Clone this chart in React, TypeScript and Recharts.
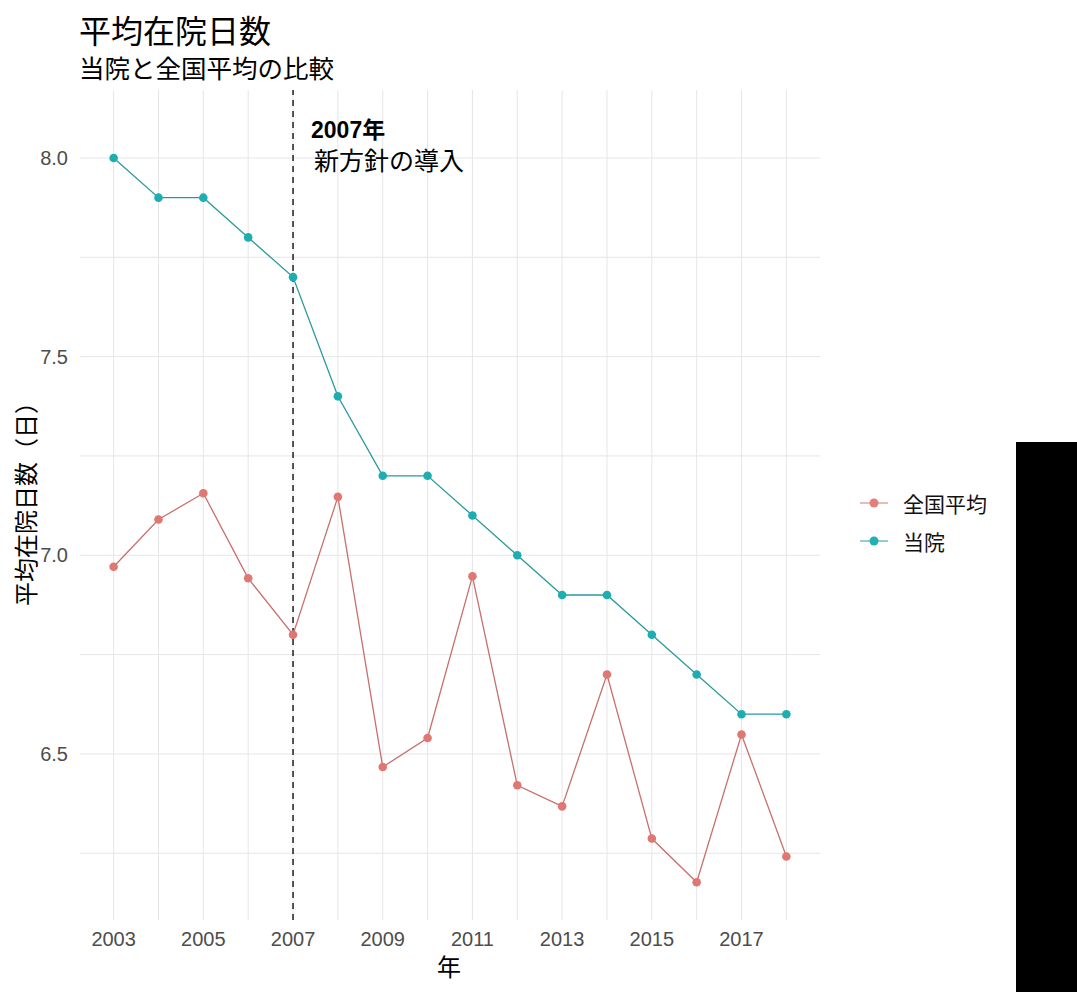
import React from 'react';
import {
  LineChart,
  Line,
  XAxis,
  YAxis,
  CartesianGrid,
  ReferenceLine,
} from 'recharts';

const years = [2003, 2004, 2005, 2006, 2007, 2008, 2009, 2010, 2011, 2012, 2013, 2014, 2015, 2016, 2017, 2018];
const hospital = [8.0, 7.9, 7.9, 7.8, 7.7, 7.4, 7.2, 7.2, 7.1, 7.0, 6.9, 6.9, 6.8, 6.7, 6.6, 6.6];
const national = [6.971, 7.09, 7.156, 6.942, 6.8, 7.147, 6.467, 6.54, 6.947, 6.421, 6.368, 6.7, 6.287, 6.177, 6.549, 6.242];
const xTicks = [2003, 2005, 2007, 2009, 2011, 2013, 2015, 2017];
const yTicks = [6.5, 7.0, 7.5, 8.0];
const yGrid = [6.25, 6.5, 6.75, 7.0, 7.25, 7.5, 7.75, 8.0];

const data = years.map((year, i) => ({ year, hospital: hospital[i], national: national[i] }));

const RED_LINE = '#c7706d';
const RED_DOT = '#df7773';
const TEAL_LINE = '#2a9a9e';
const TEAL_DOT = '#1eaeb2';

const FONT = '"Liberation Sans", "Noto Sans CJK JP", sans-serif';
const CJK = '"Noto Sans CJK JP", "Liberation Sans", sans-serif';

const legendItems = [
  { name: '全国平均', line: '#e6a3a0', dot: '#e07f7c' },
  { name: '当院', line: '#6cbfc2', dot: '#22b0b4' },
];

function PolicyLabel(props: any) {
  const { viewBox } = props;
  const x = viewBox.x + 18;
  const y = viewBox.y;
  return (
    <g>
      <text x={x} y={y + 48} fontSize={23} fill="#000" fontFamily={FONT}>
        <tspan fontWeight="bold">2007年</tspan>
      </text>
      <text x={x + 3} y={y + 80} fontSize={25} fill="#000" fontFamily={CJK}>
        新方針の導入
      </text>
    </g>
  );
}

function LegendBox() {
  return (
    <div style={{ position: 'absolute', left: 860, top: 484, fontFamily: CJK }}>
      {legendItems.map((item) => (
        <div key={item.name} style={{ display: 'flex', alignItems: 'center', height: 38 }}>
          <svg width={28} height={14} style={{ marginRight: 15 }}>
            <line x1={0} y1={7} x2={28} y2={7} stroke={item.line} strokeWidth={1.5} />
            <circle cx={14} cy={7} r={4.5} fill={item.dot} />
          </svg>
          <span style={{ fontSize: 21, color: '#111' }}>{item.name}</span>
        </div>
      ))}
    </div>
  );
}

export default function App() {
  return (
    <div style={{ position: 'absolute', left: 0, top: 0, width: 1077, height: 992, background: '#fff', overflow: 'hidden' }}>
      <div style={{ position: 'absolute', left: 79, top: 13, fontSize: 32, lineHeight: 1, fontFamily: CJK, color: '#000' }}>
        平均在院日数
      </div>
      <div style={{ position: 'absolute', left: 79, top: 54, fontSize: 25.5, lineHeight: 1, fontFamily: CJK, color: '#000' }}>
        当院と全国平均の比較
      </div>
      <div
        style={{
          position: 'absolute',
          left: 25,
          top: 498,
          transform: 'translate(-50%, -50%) rotate(-90deg)',
          fontSize: 24,
          lineHeight: 1,
          whiteSpace: 'nowrap',
          fontFamily: CJK,
          color: '#000',
        }}
      >
        平均在院日数（日）
      </div>
      <div
        style={{
          position: 'absolute',
          left: 449,
          top: 966,
          transform: 'translate(-50%, -50%)',
          fontSize: 24,
          lineHeight: 1,
          fontFamily: CJK,
          color: '#000',
        }}
      >
        年
      </div>
      <div style={{ position: 'absolute', left: 0, top: 0 }}>
        <LineChart
          width={1077}
          height={992}
          data={data}
          margin={{ top: 90, right: 257, bottom: 32, left: 0 }}
        >
          <CartesianGrid
            stroke="#e6e6e6"
            strokeWidth={1}
            verticalValues={years}
            horizontalValues={yGrid}
          />
          <XAxis
            dataKey="year"
            type="number"
            domain={[2002.25, 2018.75]}
            ticks={xTicks}
            allowDataOverflow
            axisLine={false}
            tickLine={false}
            tickSize={0}
            tickMargin={12}
            height={40}
            tick={{ fontSize: 20, fill: '#4d4d4d', fontFamily: FONT }}
          />
          <YAxis
            type="number"
            domain={[6.082, 8.171]}
            ticks={yTicks}
            allowDataOverflow
            axisLine={false}
            tickLine={false}
            tickSize={0}
            tickMargin={12}
            width={80}
            tickFormatter={(v: number) => v.toFixed(1)}
            tick={{ fontSize: 20, fill: '#4d4d4d', fontFamily: FONT }}
          />
          <ReferenceLine
            x={2007}
            stroke="#000"
            strokeWidth={1.3}
            strokeDasharray="6 5"
            label={<PolicyLabel />}
          />
          <Line
            type="linear"
            dataKey="national"
            name="全国平均"
            stroke={RED_LINE}
            strokeWidth={1.3}
            dot={{ r: 4.3, fill: RED_DOT, stroke: RED_DOT, strokeWidth: 0 }}
            activeDot={false}
            isAnimationActive={false}
          />
          <Line
            type="linear"
            dataKey="hospital"
            name="当院"
            stroke={TEAL_LINE}
            strokeWidth={1.3}
            dot={{ r: 4.3, fill: TEAL_DOT, stroke: TEAL_DOT, strokeWidth: 0 }}
            activeDot={false}
            isAnimationActive={false}
          />
        </LineChart>
      </div>
      <LegendBox />
      <div style={{ position: 'absolute', left: 1016, top: 442, width: 61, height: 550, background: '#000' }} />
    </div>
  );
}
